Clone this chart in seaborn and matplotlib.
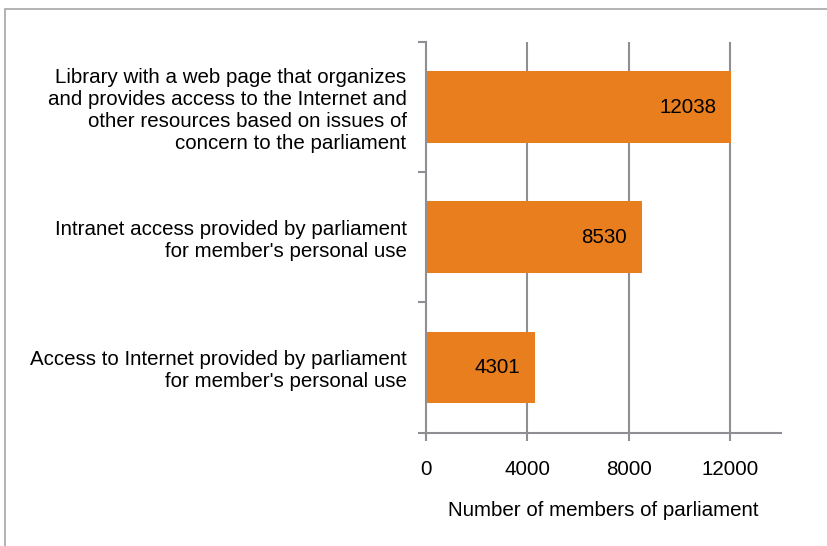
import matplotlib
matplotlib.use('Agg')
import matplotlib.pyplot as plt
from matplotlib.patches import Rectangle
import seaborn as sns
import pandas as pd


categories = [
    'Library with a web page that organizes\nand provides access to the Internet and\nother resources based on issues of\nconcern to the parliament',
    "Intranet access provided by parliament\nfor member's personal use",
    "Access to Internet provided by parliament\nfor member's personal use",
]
values = [12038, 8530, 4301]
x_ticks = [0, 4000, 8000, 12000]

BAR_COLOR = '#E87E1E'
AXIS_GRAY = '#8E8E93'
FS = 14.75

sns.set_style('white')
plt.rcParams['font.family'] = ['Liberation Sans', 'DejaVu Sans']
plt.rcParams['text.color'] = 'black'
plt.rcParams['xtick.labelcolor'] = 'black'
plt.rcParams['ytick.labelcolor'] = 'black'
plt.rcParams['axes.labelcolor'] = 'black'

df = pd.DataFrame({'category': categories, 'members': values})

fig = plt.figure(figsize=(8.27, 5.46), dpi=100)
ax = fig.add_axes([426 / 827, 1 - 432.5 / 546, 355 / 827, 390.5 / 546])

# frame around the chart
fig.patches.append(Rectangle((4.5 / 827, -0.1), 1.2, 1 - 9 / 546 + 0.1,
                             transform=fig.transFigure, fill=False,
                             edgecolor='#A6A6A6', linewidth=1.2))

sns.barplot(data=df, x='members', y='category', orient='h', color=BAR_COLOR,
            saturation=1, width=0.55, linewidth=0, ax=ax)

ax.set_xlim(0, 14000)
ax.set_ylim(2.5, -0.5)
ax.set_xticks(x_ticks)
ax.set_xticklabels([str(t) for t in x_ticks], fontsize=FS)

for x in x_ticks[1:]:
    ax.axvline(x, color=AXIS_GRAY, linewidth=1.5, zorder=0)

for i, v in enumerate(values):
    ax.annotate(str(v), xy=(v, i), xytext=(-15, 0), textcoords='offset pixels',
                ha='right', va='center', fontsize=FS, color='black')

ax.set_yticks([0, 1, 2])
ax.set_yticklabels(categories, fontsize=FS, linespacing=1.2)
ax.set_yticks([-0.5, 0.5, 1.5, 2.5], minor=True)
ax.tick_params(axis='y', which='major', length=0, pad=14)
ax.tick_params(axis='y', which='minor', length=5.5, width=1.5, color=AXIS_GRAY, left=True)
ax.tick_params(axis='x', length=6, width=1.5, color=AXIS_GRAY, bottom=True, pad=14)

for side in ['top', 'right']:
    ax.spines[side].set_visible(False)
for side in ['left', 'bottom']:
    ax.spines[side].set_color(AXIS_GRAY)
    ax.spines[side].set_linewidth(1.5)

ax.set_ylabel('')
ax.set_xlabel('Number of members of parliament', fontsize=FS, labelpad=16)

plt.savefig('out.png', dpi=100)
